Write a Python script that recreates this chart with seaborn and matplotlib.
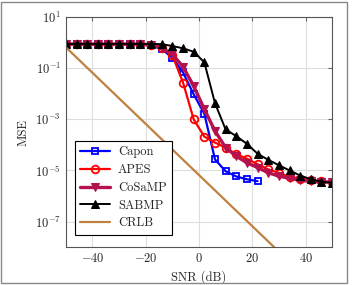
import numpy as np
import pandas as pd
import matplotlib
matplotlib.use('Agg')
import matplotlib.pyplot as plt
import seaborn as sns
from matplotlib.patches import Rectangle
from matplotlib.ticker import LogFormatterMathtext, FixedLocator

# Datos
snr = np.arange(-50, 51, 4)
capon = [0.87, 0.87, 0.87, 0.87, 0.87, 0.87, 0.87, 0.87, 0.79, 0.56, 0.26, 0.068,
         9.5e-3, 1.66e-3, 2.7e-5, 9.3e-6, 5.8e-6, 4.5e-6, 3.8e-6]
apes = [0.87, 0.87, 0.87, 0.87, 0.87, 0.87, 0.87, 0.87, 0.79, 0.6, 0.32, 0.0275,
        1.0e-3, 2.1e-4, 1.23e-4, 7.8e-5, 4.3e-5, 2.9e-5, 1.74e-5, 1.1e-5, 8.1e-6,
        5.6e-6, 4.7e-6, 4.1e-6, 3.7e-6, 3.5e-6]
cosamp = [0.87, 0.87, 0.87, 0.87, 0.87, 0.87, 0.87, 0.87, 0.8, 0.63, 0.35, 0.115,
          0.02, 2.5e-3, 3.5e-4, 7.8e-5, 3.6e-5, 2.0e-5, 1.3e-5, 8.1e-6, 6.0e-6,
          4.9e-6, 4.1e-6, 3.7e-6, 3.5e-6, 3.5e-6]
sabmp = [0.9, 0.9, 0.9, 0.9, 0.9, 0.9, 0.9, 0.9, 0.9, 0.87, 0.74, 0.6, 0.44, 0.17,
         4.3e-3, 4e-4, 2.2e-4, 1.1e-4, 4.5e-5, 2.6e-5, 1.6e-5, 1.0e-5, 6.3e-6,
         4.5e-6, 3.6e-6, 3.3e-6]
crlb_snr = [-50, 50]
crlb = [0.66, 0.66e-10]

sns.set_style('white')
plt.rcParams['font.family'] = ['cmr10']
plt.rcParams['mathtext.fontset'] = 'cm'
plt.rcParams['axes.formatter.use_mathtext'] = True

fig = plt.figure(figsize=(3.56, 2.85), dpi=100)
ax = fig.add_axes([0.185, 0.133, 0.748, 0.807])

fig.patches.append(Rectangle((0.004, 0.007), 0.972, 0.986, transform=fig.transFigure,
                             fill=False, edgecolor='#888888', lw=1.0))

sns.lineplot(x=snr[:len(capon)], y=capon, ax=ax, color='#0000ff', marker='s', markersize=5,
             markerfacecolor='none', markeredgecolor='#0000ff', markeredgewidth=1.3, lw=1.6, label='Capon')
sns.lineplot(x=snr, y=apes, ax=ax, color='#ff0000', marker='o', markersize=5.5,
             markerfacecolor='none', markeredgecolor='#ff0000', markeredgewidth=1.3, lw=1.6, label='APES')
sns.lineplot(x=snr, y=cosamp, ax=ax, color='#b3124f', marker='v', markersize=6,
             markeredgecolor='#b3124f', lw=2.4, label='CoSaMP')
sns.lineplot(x=snr, y=sabmp, ax=ax, color='black', marker='^', markersize=5.5,
             markeredgecolor='black', lw=1.4, label='SABMP')
sns.lineplot(x=crlb_snr, y=crlb, ax=ax, color='#bf8040', lw=1.6, label='CRLB')

ax.set_yscale('log')
ax.set_xlim(-50, 50)
ax.set_ylim(1e-8, 1e1)
ax.set_xticks([-40, -20, 0, 20, 40])
ax.yaxis.set_major_locator(FixedLocator([1e1, 1e-1, 1e-3, 1e-5, 1e-7]))
ax.yaxis.set_major_formatter(LogFormatterMathtext())
ax.yaxis.set_minor_locator(FixedLocator([]))
ax.grid(True, color='#dddddd', lw=0.8)
ax.tick_params(direction='in', top=True, right=True, labelsize=9, length=3, color='#666666')
for s in ax.spines.values():
    s.set_color('#555555')
    s.set_linewidth(0.8)

ax.set_xlabel('SNR (dB)', fontsize=9)
ax.set_ylabel('MSE', fontsize=9)

leg = ax.legend(loc='lower left', bbox_to_anchor=(0.01, 0.025), fontsize=9, frameon=True,
                fancybox=False, edgecolor='black', framealpha=1, handlelength=2.4,
                borderpad=0.45, labelspacing=0.45, handletextpad=0.6)
leg.get_frame().set_linewidth(0.8)

fig.savefig('out.png', dpi=100)
